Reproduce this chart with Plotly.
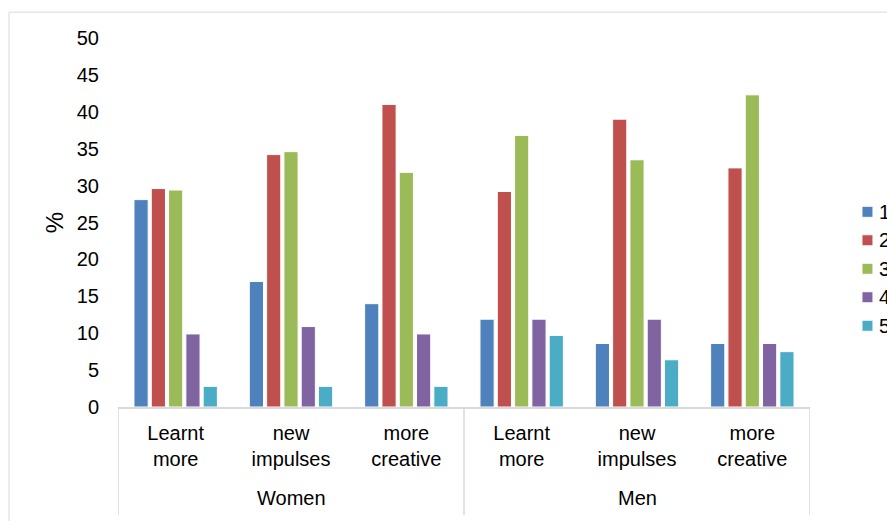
import plotly.graph_objects as go

# ===== data =====
GROUPS = ["Women", "Women", "Women", "Men", "Men", "Men"]
ITEMS = ["Learnt<br>more", "new<br>impulses", "more<br>creative",
         "Learnt<br>more", "new<br>impulses", "more<br>creative"]
SERIES = ["1", "2", "3", "4", "5"]
VALUES = {
    "1": [28.1, 17.0, 14.0, 11.9, 8.6, 8.6],
    "2": [29.6, 34.2, 41.0, 29.2, 39.0, 32.4],
    "3": [29.4, 34.6, 31.8, 36.8, 33.5, 42.3],
    "4": [9.9, 10.9, 9.9, 11.9, 11.9, 8.6],
    "5": [2.8, 2.8, 2.8, 9.7, 6.4, 7.5],
}
COLORS = ["#4F81BD", "#C0504D", "#9BBB59", "#8064A2", "#4BACC6"]
Y_TICKS = list(range(0, 55, 5))

FONT = "Liberation Sans, Arial, sans-serif"
GRID = "#D9D9D9"

pos = list(range(len(ITEMS)))

fig = go.Figure()
for name, color in zip(SERIES, COLORS):
    fig.add_trace(go.Bar(
        x=pos, y=VALUES[name], name=name, showlegend=False,
        marker=dict(color=color, line=dict(color="white", width=1)),
    ))

# outer category level: label under each group + divider lines (Excel style)
groups = list(dict.fromkeys(GROUPS))
bounds = [-0.5]
for g in groups:
    idx = [i for i, gg in enumerate(GROUPS) if gg == g]
    fig.add_annotation(x=sum(idx) / len(idx), xref="x", y=-0.247, yref="paper",
                       text=g, showarrow=False, yanchor="middle",
                       font=dict(size=20))
    bounds.append(idx[-1] + 0.5)
for b in bounds:
    fig.add_shape(type="line", xref="x", yref="paper", x0=b, x1=b,
                  y0=0, y1=-0.293, line=dict(color=GRID, width=1.5))

# legend drawn by hand: the source legend runs off the right edge
for i, (name, color) in enumerate(zip(SERIES, COLORS)):
    yc = 0.529 - i * 0.0772
    fig.add_shape(type="rect", xref="paper", yref="paper",
                  x0=1.0751, x1=1.0910, y0=yc - 0.015, y1=yc + 0.015,
                  fillcolor=color, line=dict(color="white", width=1))
    fig.add_annotation(x=1.0983, xref="paper", y=yc, yref="paper",
                       text=name, showarrow=False, xanchor="left",
                       yanchor="middle", xshift=-1, font=dict(size=20))

# light frame around the chart (cropped on the right/bottom like the source)
fig.add_shape(type="rect", xref="paper", yref="paper",
              x0=-0.1575, x1=1.3, y0=-0.5, y1=1.07,
              line=dict(color=GRID, width=1), layer="below")

fig.update_layout(
    width=887, height=521,
    margin=dict(l=118, r=77, t=38, b=114, autoexpand=False),
    paper_bgcolor="white", plot_bgcolor="white",
    font=dict(family=FONT, size=20, color="black"),
    barmode="group", bargap=0.25, bargroupgap=0.18,
    showlegend=False,
    xaxis=dict(range=[-0.5, len(ITEMS) - 0.5], tickvals=pos, ticktext=ITEMS,
               showline=True, linecolor=GRID, linewidth=1.5,
               showgrid=False, zeroline=False, ticks="",
               ticklabelstandoff=7, tickfont=dict(size=20)),
    yaxis=dict(range=[0, 50], tickvals=Y_TICKS, showgrid=False,
               showline=False, zeroline=False, ticks="",
               ticklabelstandoff=18,
               title=dict(text="%", standoff=6), tickfont=dict(size=20)),
)

# drop the default page margin so the figure fills the window exactly
fig.write_html("out.html", config={"displayModeBar": False},
               post_script="document.body.style.margin='0';"
                           "document.body.style.overflow='hidden';")
